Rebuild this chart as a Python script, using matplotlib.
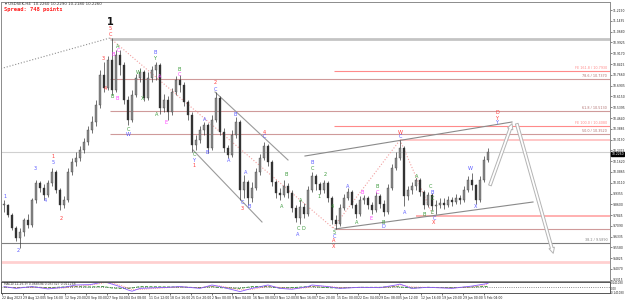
import matplotlib
matplotlib.use('Agg')
import matplotlib.pyplot as plt
from matplotlib.patches import FancyArrowPatch
from matplotlib import font_manager
import numpy as np

# ---------------- data ----------------
symbol_line = "USDSEK,H4  10.2260 10.2290 10.2180 10.2260"
spread_text = "Spread: 748 points"

closes = [9.855, 9.785, 9.694, 9.624, 9.666, 9.75, 9.715, 9.89, 10.009, 9.974,
          9.925, 10.009, 10.086, 9.96, 9.855, 9.89, 10.086, 10.156, 10.184, 10.24,
          10.296, 10.38, 10.436, 10.555, 10.765, 10.674, 10.87, 10.66, 10.905, 10.835,
          10.59, 10.45, 10.625, 10.744, 10.786, 10.604, 10.744, 10.80, 10.835, 10.534,
          10.59, 10.506, 10.646, 10.73, 10.695, 10.576, 10.485, 10.275, 10.31, 10.38,
          10.415, 10.254, 10.45, 10.604, 10.366, 10.254, 10.205, 10.345, 10.436, 9.96,
          10.016, 9.904, 9.974, 10.086, 10.184, 10.268, 10.156, 10.016, 9.939, 9.925,
          9.988, 9.939, 9.834, 9.764, 9.841, 9.792, 9.96, 10.058, 10.002, 9.96,
          10.009, 9.904, 9.75, 9.722, 9.834, 9.904, 9.946, 9.855, 9.792, 9.89,
          9.904, 9.855, 9.82, 9.918, 9.862, 9.806, 9.974, 10.114, 10.184, 10.254,
          9.918, 9.96, 9.988, 10.03, 9.946, 9.855, 9.925, 9.848, 9.855, 9.869,
          9.855, 9.89, 9.876, 9.904, 9.89, 9.96, 10.03, 9.995, 9.89, 10.03,
          10.17, 10.226]
highs = [9.89, 9.862, 9.799, 9.708, 9.694, 9.764, 9.792, 9.904, 10.03, 10.023,
         10.002, 10.03, 10.114, 10.10, 9.974, 9.918, 10.114, 10.184, 10.226, 10.268,
         10.324, 10.408, 10.478, 10.59, 10.80, 10.856, 10.898, 11.024, 10.94, 10.94,
         10.856, 10.618, 10.66, 10.772, 10.814, 10.80, 10.786, 10.828, 10.856, 10.849,
         10.632, 10.618, 10.674, 10.758, 10.765, 10.716, 10.59, 10.506, 10.345, 10.408,
         10.436, 10.429, 10.485, 10.646, 10.618, 10.394, 10.275, 10.38, 10.471, 10.45,
         10.065, 10.03, 10.016, 10.114, 10.212, 10.296, 10.282, 10.17, 10.03, 9.974,
         10.03, 10.009, 9.96, 9.855, 9.89, 9.869, 9.988, 10.086, 10.072, 10.016,
         10.03, 10.023, 9.918, 9.785, 9.862, 9.932, 9.974, 9.96, 9.869, 9.918,
         9.925, 9.918, 9.876, 9.946, 9.932, 9.89, 10.002, 10.142, 10.226, 10.31,
         10.268, 9.988, 10.016, 10.044, 10.044, 9.96, 9.946, 9.939, 9.89, 9.904,
         9.904, 9.918, 9.911, 9.932, 9.925, 9.988, 10.058, 10.079, 10.002, 10.058,
         10.198, 10.254]
lows = [9.806, 9.771, 9.68, 9.603, 9.554, 9.638, 9.694, 9.701, 9.869, 9.946,
        9.89, 9.911, 9.988, 9.939, 9.82, 9.834, 9.876, 10.065, 10.128, 10.163,
        10.219, 10.275, 10.359, 10.408, 10.534, 10.646, 10.66, 10.625, 10.646, 10.765,
        10.562, 10.415, 10.436, 10.611, 10.716, 10.583, 10.59, 10.716, 10.73, 10.492,
        10.506, 10.45, 10.485, 10.625, 10.646, 10.548, 10.45, 10.226, 10.24, 10.289,
        10.345, 10.219, 10.24, 10.436, 10.345, 10.226, 10.184, 10.191, 10.324, 9.89,
        9.904, 9.855, 9.876, 9.96, 10.065, 10.17, 10.128, 9.988, 9.904, 9.89,
        9.911, 9.904, 9.806, 9.736, 9.722, 9.764, 9.778, 9.946, 9.96, 9.932,
        9.939, 9.876, 9.722, 9.687, 9.708, 9.82, 9.89, 9.834, 9.764, 9.778,
        9.862, 9.827, 9.792, 9.806, 9.834, 9.778, 9.792, 9.96, 10.10, 10.17,
        9.848, 9.89, 9.932, 9.96, 9.918, 9.827, 9.841, 9.82, 9.792, 9.834,
        9.827, 9.841, 9.848, 9.862, 9.862, 9.876, 9.946, 9.96, 9.862, 9.876,
        10.016, 10.156]

price_ticks = [11.2190 - 0.0755 * k for k in range(26)]

time_labels = ["22 Aug 2023", "29 Aug 12:00", "5 Sep 16:00", "12 Sep 20:00", "20 Sep 00:00",
               "27 Sep 04:00", "4 Oct 08:00", "11 Oct 12:00", "18 Oct 16:00", "25 Oct 20:00",
               "2 Nov 00:00", "9 Nov 04:00", "16 Nov 08:00", "23 Nov 12:00", "30 Nov 16:00",
               "7 Dec 20:00", "15 Dec 00:00", "22 Dec 04:00", "29 Dec 08:00", "5 Jan 12:00",
               "12 Jan 16:00", "19 Jan 20:00", "29 Jan 00:00", "5 Feb 04:00"]

# MACD panel (sparse reading of the lines)
macd_bars = [0, 3, 7, 11, 15, 18, 21.5, 24, 25, 27, 29, 31, 32, 34, 41, 44, 49, 52, 54, 59,
             62, 66, 69, 72, 76, 77, 81, 84, 89, 94, 98, 99, 102, 106, 112, 117, 120, 121]
macd_main = [0.02, -0.03, 0.02, -0.045, 0.0, 0.065, 0.075, 0.13, 0.16, 0.09,
             0.02, -0.075, -0.11, -0.03, 0.0, 0.02, -0.03, 0.065, 0.02, -0.12,
             -0.03, 0.065, -0.03, -0.055, 0.02, 0.065, 0.02, -0.03, 0.0, -0.01,
             0.065, 0.09, -0.03, 0.0, -0.03, 0.035, 0.09, 0.11]
macd_signal = [0.01, -0.01, 0.0, -0.02, -0.02, 0.03, 0.06, 0.10, 0.13, 0.12,
               0.06, -0.02, -0.07, -0.06, -0.01, 0.01, -0.01, 0.03, 0.04, -0.07,
               -0.06, 0.03, 0.0, -0.04, -0.01, 0.03, 0.03, -0.01, 0.0, -0.01,
               0.03, 0.07, 0.01, 0.0, -0.02, 0.01, 0.06, 0.08]
macd_osma = [0.005, -0.01, 0.01, -0.01, 0.01, 0.02, 0.01, 0.02, 0.02, -0.02,
             -0.03, -0.03, -0.02, 0.02, 0.01, 0.01, -0.01, 0.02, -0.01, -0.03,
             0.02, 0.02, -0.02, -0.01, 0.02, 0.02, -0.01, -0.02, 0.0, 0.0,
             0.02, 0.01, -0.02, 0.0, -0.01, 0.01, 0.02, 0.02]
macd_title = "MACD(12,26,9) 0.068594 0.057327 0.011268"

# horizontal levels: (price, start bar, color, width, label)
levels = [
    (11.017, 26.5, '#c4c4c4', 2.0, ''),
    (10.793, 82.5, '#ff8a8a', 0.8, 'FE 161.8 / 10.7930'),
    (10.737, 26.5, '#cf9a9a', 0.8, '78.6 / 10.7370'),
    (10.513, 26.5, '#cf9a9a', 0.8, '61.8 / 10.5130'),
    (10.408, 82.5, '#ff8a8a', 0.8, 'FE 100.0 / 10.4080'),
    (10.352, 26.5, '#cf9a9a', 0.8, '50.0 / 10.3520'),
    (10.31, 99.0, '#ffbcbc', 1.2, ''),
    (9.778, 103.0, '#ffb0b0', 1.4, ''),
    (9.687, 82.75, '#cf9a9a', 0.8, ''),
    (9.589, -1.0, '#808080', 0.8, '38.2 / 9.5890'),
    (9.456, -1.0, '#ffd0d0', 2.0, ''),
]

# trend lines: ((bar1, price1), (bar2, price2), color, style, width)
trendlines = [
    ((-0.75, 10.81), (26.5, 11.024), '#909090', ':', 0.8),
    ((26.5, 11.024), (82.25, 9.694), '#f2a0a0', ':', 0.8),
    ((82.25, 9.694), (99, 10.31), '#f2a0a0', ':', 0.8),
    ((99, 10.31), (107.5, 9.764), '#f2a0a0', ':', 0.8),
    ((52.75, 10.646), (71, 10.17), '#9a9a9a', '-', 0.8),
    ((47.25, 10.24), (64.5, 9.736), '#9a9a9a', '-', 0.8),
    ((75.25, 10.198), (127, 10.436), '#8a8a8a', '-', 0.8),
    ((82.75, 9.687), (132.25, 9.876), '#8a8a8a', '-', 0.8),
]
projection = [((121.25, 9.974), (127.25, 10.443)), ((128.0, 10.443), (137.5, 9.498))]

# wave labels (figure pixel positions, text, colour key)
wave_labels = [
    (5, 196, '1', 'b'), (18, 251, '2', 'b'), (35, 168, '3', 'b'), (45, 200, '4', 'b'),
    (53, 157, '1', 'r'), (53, 163, '5', 'b'), (61, 218, '2', 'r'),
    (103, 58, '3', 'r'), (105, 88, '4', 'r'), (110, 29, '5', 'r'), (110, 34, 'C', 'r'),
    (118, 46, 'A', 'g'), (118, 51, 'C', 'm'), (113, 55, 'B', 'm'),
    (112, 96, 'B', 'g'), (117, 98, 'B', 'm'), (128, 130, 'C', 'g'), (128, 135, 'W', 'b'),
    (138, 72, 'W', 'g'), (143, 99, 'X', 'g'), (155, 53, 'B', 'b'), (155, 58, 'Y', 'g'),
    (160, 77, 'A', 'm'), (157, 114, 'A', 'g'), (166, 122, 'E', 'm'),
    (179, 69, 'B', 'g'), (179, 74, 'C', 'm'),
    (194, 155, 'C', 'g'), (194, 160, 'Y', 'b'), (194, 166, '1', 'r'),
    (205, 120, 'A', 'b'), (207, 153, 'B', 'b'), (215, 83, '2', 'r'), (215, 89, 'C', 'b'),
    (229, 160, 'A', 'b'), (235, 114, 'B', 'b'), (242, 203, 'C', 'b'), (242, 209, '3', 'r'),
    (246, 172, 'A', 'b'), (249, 207, 'B', 'b'), (264, 132, '4', 'r'), (264, 137, 'C', 'b'),
    (282, 207, 'A', 'g'), (286, 175, 'B', 'g'), (298, 229, 'C', 'g'), (298, 234, 'A', 'b'),
    (303, 229, 'D', 'g'), (301, 200, 'A', 'g'), (312, 163, 'B', 'b'), (312, 168, 'C', 'g'),
    (319, 197, '1', 'g'), (325, 175, '2', 'g'), (332, 207, '4', 'g'), (334, 232, '5', 'g'),
    (334, 237, 'C', 'b'), (334, 241, 'A', 'r'), (334, 246, 'X', 'r'),
    (348, 186, 'A', 'b'), (357, 222, 'A', 'g'), (362, 193, 'B', 'm'), (371, 219, 'E', 'm'),
    (377, 187, 'B', 'g'), (377, 192, 'C', 'm'), (383, 222, 'B', 'g'), (383, 227, 'D', 'b'),
    (400, 132, 'W', 'r'), (400, 136, 'C', 'b'), (405, 212, 'A', 'b'), (417, 176, 'A', 'g'),
    (424, 214, 'B', 'g'), (430, 187, 'C', 'g'), (432, 193, 'B', 'b'), (432, 198, 'C', 'g'),
    (432, 212, 'E', 'g'), (434, 218, 'C', 'b'), (434, 223, 'X', 'r'),
    (470, 168, 'W', 'b'), (476, 206, 'X', 'b'),
    (497, 113, 'D', 'r'), (497, 118, 'Y', 'r'), (497, 122, 'Y', 'b'),
]
label_colors = {'r': '#ff3b3b', 'b': '#5a5aff', 'g': '#3c9a3c', 'm': '#ff40ff'}

# ---------------- figure ----------------
names = {f.name for f in font_manager.fontManager.ttflist}
NARROW = ['Liberation Sans Narrow', 'DejaVu Sans'] if 'Liberation Sans Narrow' in names \
    else ['DejaVu Sans']
narrow_scale = 1.0 if NARROW[0] == 'Liberation Sans Narrow' else 0.8

W, H = 625, 301
fig = plt.figure(figsize=(6.25, 3.01), dpi=100)
fig.patch.set_facecolor('white')


def fx(px):
    return px / W


def fy(py):
    return 1 - py / H


ax = fig.add_axes([fx(1), fy(281), fx(610) - fx(1), fy(2) - fy(281)])
axm = fig.add_axes([fx(1), fy(293), fx(610) - fx(1), fy(282) - fy(293)])

XMIN, XMAX = -0.75, 151.5
ax.set_xlim(XMIN, XMAX)
ax.set_ylim(9.323, 11.276)

# candles
bars = np.arange(len(closes))
c = np.array(closes)
o = np.array([closes[0]] + closes[:-1])
hi = np.array(highs)
lo = np.array(lows)
upm = c >= o
ax.vlines(bars, lo, hi, color='#3a3a3a', lw=0.5, zorder=3)
bb = np.minimum(o, c)
bh = np.maximum(np.abs(c - o), 0.004)
ax.bar(bars[upm], bh[upm], bottom=bb[upm], width=0.48, color='#8a8a8a',
       edgecolor='#3a3a3a', lw=0.25, zorder=4)
ax.bar(bars[~upm], bh[~upm], bottom=bb[~upm], width=0.48, color='#333333',
       edgecolor='#333333', lw=0.25, zorder=4)

# levels
for price, start, col, lw, lab in levels:
    ax.hlines(price, max(start, XMIN), XMAX, color=col, lw=lw, zorder=1)
    if lab:
        ax.text(150.8, price + 0.005, lab, color=col if col != '#cf9a9a' else '#b07070',
                fontsize=3.0 * narrow_scale, family=NARROW, ha='right', va='bottom', zorder=5)

# current price line
ax.hlines(closes[-1], XMIN, XMAX, color='#d0d0d0', lw=0.8, zorder=1)

for (x1, y1), (x2, y2), col, ls, lw in trendlines:
    ax.plot([x1, x2], [y1, y2], color=col, ls=ls, lw=lw, zorder=2)

for (x1, y1), (x2, y2) in projection:
    arr = FancyArrowPatch((x1, y1), (x2, y2),
                          arrowstyle='simple,head_length=4,head_width=4,tail_width=2',
                          mutation_scale=1, fc='white', ec='#b4b4b4', lw=0.7, zorder=3)
    ax.add_patch(arr)

# axes styling
for s in ax.spines.values():
    s.set_color('#8c8c8c')
    s.set_linewidth(0.7)
ax.set_xticks([])
ax.yaxis.tick_right()
ax.set_yticks(price_ticks)
ax.set_yticklabels([f"{t:.4f}" for t in price_ticks], family=NARROW,
                   fontsize=2.7 * narrow_scale, color='#222222')
ax.tick_params(axis='y', length=1.2, width=0.4, pad=0.5, colors='#222222')

# current price tag
fig.text(fx(611.3), fy(154), f"{closes[-1]:.4f}", fontsize=2.7 * narrow_scale, family=NARROW,
         color='white', va='center', ha='left',
         bbox=dict(boxstyle='square,pad=0.12', fc='black', ec='black'))

# MACD panel
axm.set_xlim(XMIN, XMAX)
axm.set_ylim(-0.16, 0.149)
axm.axhline(0, color='#666666', ls=':', lw=0.6)
axm.plot(macd_bars, macd_osma, color='#2e8b2e', lw=0.6, ls='--')
axm.plot(macd_bars, macd_signal, color='#ff5050', lw=0.5, ls=':')
axm.plot(macd_bars, macd_main, color='#8a5cff', lw=0.6)
for s in axm.spines.values():
    s.set_color('#555555')
    s.set_linewidth(0.7)
axm.set_yticks([])
tick_pos = [-0.5 + 5.2375 * k for k in range(len(time_labels))]
axm.set_xticks(tick_pos)
axm.set_xticklabels(time_labels, fontsize=2.8 * narrow_scale, family=NARROW, ha='left',
                    color='#222222')
axm.tick_params(axis='x', length=1.5, width=0.4, pad=1)
fig.text(fx(4), fy(284), macd_title, fontsize=2.8 * narrow_scale, family=NARROW,
         color='#333333', va='center')
for py, t in [(283, "0.141030"), (288.5, "0.00"), (293, "-0.141030")]:
    fig.text(fx(611.3), fy(py), t, fontsize=2.5 * narrow_scale, family=NARROW,
             color='#222222', va='center')

# header
fig.text(fx(5), fy(4), "\u25be " + symbol_line, fontsize=2.8, color='#333333', va='center')
fig.text(fx(4), fy(10), spread_text, fontsize=4.0, color='#ff2020', va='center',
         family='DejaVu Sans Mono', weight='bold')

# wave labels
fig.text(fx(110), fy(22), '1', fontsize=7, color='#111111', ha='center', va='center',
         weight='bold')
for px, py, t, ck in wave_labels:
    fig.text(fx(px), fy(py), t, fontsize=3.6, color=label_colors[ck], ha='center', va='center')

fig.savefig('out.png', dpi=100)
